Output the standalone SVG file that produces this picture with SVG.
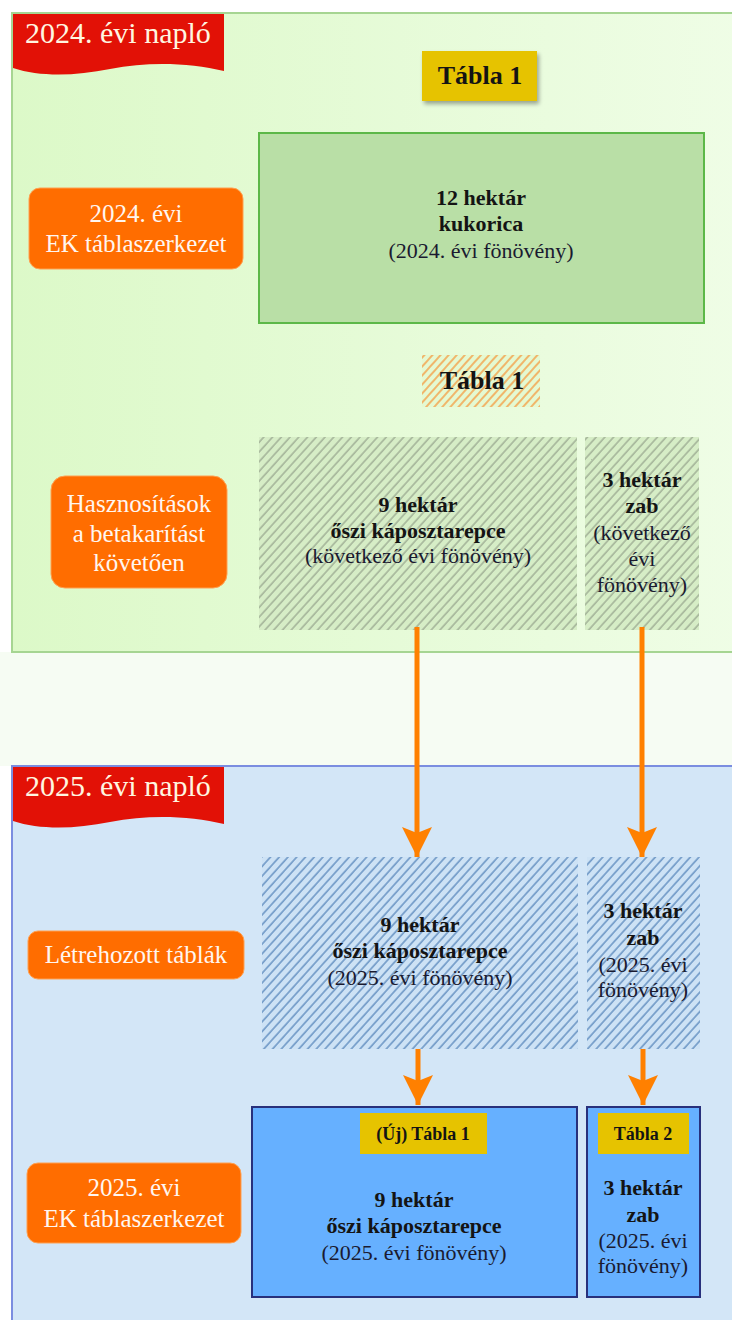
<svg xmlns="http://www.w3.org/2000/svg" width="732" height="1320" viewBox="0 0 732 1320">
<style>
text{font-family:"Liberation Serif","DejaVu Serif",serif;text-anchor:middle}
.ban{font-size:30px;fill:#fff6e0;text-anchor:start}
.lbl{font-size:25px;fill:#fff6f0}
.lbox{fill:#ff6d00;stroke:#ffa050;stroke-width:1}
.b{font-size:22px;font-weight:bold;fill:#141414}
.n{font-size:22px;fill:#1a1a30}
.tag{font-size:26px;font-weight:bold;fill:#141414}
.tag2{font-size:18px;font-weight:bold;fill:#141414}
.yel{fill:#e6c300}
.conn line{stroke:#ff8000;stroke-width:5}
</style>
<defs>
<linearGradient id="gTop" x1="0" y1="0" x2="1" y2="0">
<stop offset="0" stop-color="#dcf9c8"/>
<stop offset="1" stop-color="#effde6"/>
</linearGradient>
<pattern id="hGray" patternUnits="userSpaceOnUse" width="6.5" height="6.5" patternTransform="rotate(42)">
<rect width="6.5" height="6.5" fill="#d6edc6"/>
<line x1="1" y1="0" x2="1" y2="6.5" stroke="#9aa890" stroke-width="1.3"/>
</pattern>
<pattern id="hBlue" patternUnits="userSpaceOnUse" width="6.5" height="6.5" patternTransform="rotate(42)">
<rect width="6.5" height="6.5" fill="#cde2f5"/>
<line x1="1" y1="0" x2="1" y2="6.5" stroke="#6f98c6" stroke-width="1.6"/>
</pattern>
<pattern id="hOrange" patternUnits="userSpaceOnUse" width="6" height="6" patternTransform="rotate(42)">
<rect width="6" height="6" fill="#e4f9d2"/>
<line x1="1" y1="0" x2="1" y2="6" stroke="#f4a550" stroke-width="1.6"/>
</pattern>
<filter id="sh" x="-20%" y="-20%" width="150%" height="160%">
<feGaussianBlur in="SourceAlpha" stdDeviation="2"/>
<feOffset dx="2" dy="3"/>
<feComponentTransfer><feFuncA type="linear" slope="0.35"/></feComponentTransfer>
<feMerge><feMergeNode/><feMergeNode in="SourceGraphic"/></feMerge>
</filter>
<marker id="ah" markerUnits="userSpaceOnUse" markerWidth="32" markerHeight="32" refX="30" refY="15" orient="auto">
<path d="M0,0 L30,15 L0,30 L6,15 Z" fill="#ff8000"/>
</marker>
</defs>

<rect width="732" height="1320" fill="#ffffff"/>
<rect x="0" y="652" width="732" height="114" fill="#f6fcf3"/>

<g id="panel-2024">
<rect x="12" y="13" width="730" height="639" fill="url(#gTop)" stroke="#a6d592" stroke-width="2"/>
<path d="M13,14 H224 V71 C190,63 150,61 110,69 C75,76 40,77 13,68 Z" fill="#e21106"/>
<text class="ban" x="25" y="43">2024. évi napló</text>
</g>

<g id="panel-2025">
<rect x="12" y="766" width="730" height="564" fill="#d3e6f7" stroke="#7b8de0" stroke-width="2"/>
<path d="M13,767 H224 V824 C190,816 150,814 110,822 C75,829 40,830 13,821 Z" fill="#e21106"/>
<text class="ban" x="25" y="796">2025. évi napló</text>
</g>

<g id="label-ek2024">
<rect class="lbox" x="29" y="188" width="214" height="81" rx="11"/>
<text class="lbl" x="136" y="222">2024. évi</text>
<text class="lbl" x="136" y="252">EK táblaszerkezet</text>
</g>

<g id="tag-tabla1-2024">
<rect class="yel" x="422" y="51" width="115" height="50" filter="url(#sh)"/>
<text class="tag" x="480" y="84">Tábla 1</text>
</g>

<g id="field-12ha">
<rect x="259" y="133" width="445" height="190" fill="#b9dfa6" stroke="#5cb848" stroke-width="2"/>
<text class="b" x="481" y="205">12 hektár</text>
<text class="b" x="481" y="231">kukorica</text>
<text class="n" x="481" y="258">(2024. évi fönövény)</text>
</g>

<g id="tag-tabla1-hatched">
<rect x="422" y="355" width="118" height="52" fill="url(#hOrange)"/>
<text class="tag" x="482" y="389">Tábla 1</text>
</g>

<g id="label-hasznositasok">
<rect class="lbox" x="51" y="476" width="176" height="112" rx="14"/>
<text class="lbl" x="139" y="512">Hasznosítások</text>
<text class="lbl" x="139" y="542">a betakarítást</text>
<text class="lbl" x="139" y="571">követően</text>
</g>

<g id="use-9ha">
<rect x="259" y="437" width="318" height="193" fill="url(#hGray)"/>
<text class="b" x="418" y="512">9 hektár</text>
<text class="b" x="418" y="538">őszi káposztarepce</text>
<text class="n" x="418" y="563">(következő évi fönövény)</text>
</g>

<g id="use-3ha">
<rect x="585" y="437" width="114" height="193" fill="url(#hGray)"/>
<text class="b" x="642" y="487">3 hektár</text>
<text class="b" x="642" y="513">zab</text>
<text class="n" x="642" y="540">(következő</text>
<text class="n" x="642" y="566">évi</text>
<text class="n" x="642" y="592">fönövény)</text>
</g>

<g id="label-letrehozott">
<rect class="lbox" x="28" y="931" width="216" height="48" rx="10"/>
<text class="lbl" x="136" y="963">Létrehozott táblák</text>
</g>

<g id="created-9ha">
<rect x="262" y="857" width="316" height="192" fill="url(#hBlue)"/>
<text class="b" x="420" y="932">9 hektár</text>
<text class="b" x="420" y="958">őszi káposztarepce</text>
<text class="n" x="420" y="985">(2025. évi fönövény)</text>
</g>

<g id="created-3ha">
<rect x="587" y="857" width="113" height="192" fill="url(#hBlue)"/>
<text class="b" x="643" y="918">3 hektár</text>
<text class="b" x="643" y="945">zab</text>
<text class="n" x="643" y="972">(2025. évi</text>
<text class="n" x="643" y="997">fönövény)</text>
</g>

<g id="label-ek2025">
<rect class="lbox" x="27" y="1163" width="214" height="80" rx="11"/>
<text class="lbl" x="134" y="1196">2025. évi</text>
<text class="lbl" x="134" y="1227">EK táblaszerkezet</text>
</g>

<g id="field-uj-tabla1">
<rect x="252" y="1107" width="325" height="190" fill="#66b0ff" stroke="#28307c" stroke-width="2"/>
<rect class="yel" x="360" y="1113" width="127" height="41"/>
<text class="tag2" x="423" y="1140">(Új) Tábla 1</text>
<text class="b" x="414" y="1207">9 hektár</text>
<text class="b" x="414" y="1233">őszi káposztarepce</text>
<text class="n" x="414" y="1260">(2025. évi fönövény)</text>
</g>

<g id="field-tabla2">
<rect x="587" y="1107" width="113" height="190" fill="#66b0ff" stroke="#28307c" stroke-width="2"/>
<rect class="yel" x="598" y="1113" width="91" height="41"/>
<text class="tag2" x="643" y="1140">Tábla 2</text>
<text class="b" x="643" y="1195">3 hektár</text>
<text class="b" x="643" y="1222">zab</text>
<text class="n" x="643" y="1248">(2025. évi</text>
<text class="n" x="643" y="1273">fönövény)</text>
</g>

<g id="connectors" class="conn">
<line x1="417" y1="627" x2="417" y2="857" marker-end="url(#ah)"/>
<line x1="642" y1="627" x2="642" y2="857" marker-end="url(#ah)"/>
<line x1="418" y1="1049" x2="418" y2="1105" marker-end="url(#ah)"/>
<line x1="643" y1="1049" x2="643" y2="1105" marker-end="url(#ah)"/>
</g>
</svg>
